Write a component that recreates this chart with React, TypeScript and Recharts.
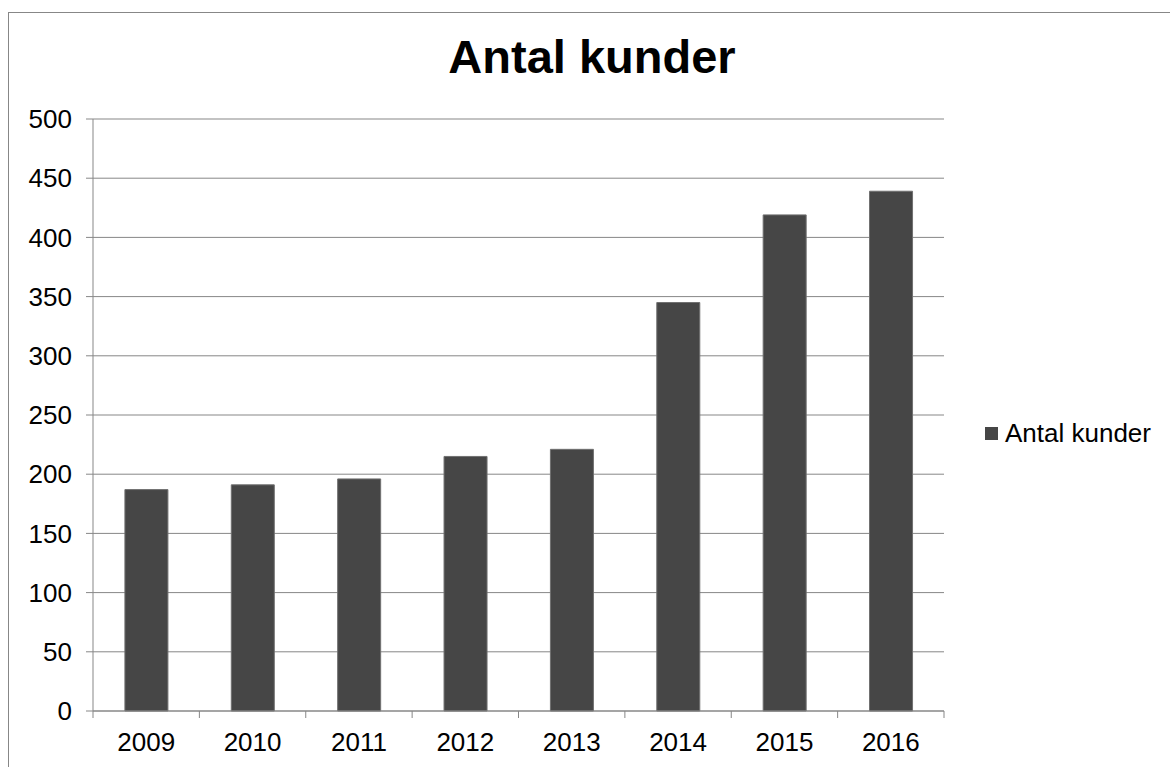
import { BarChart, Bar, XAxis, YAxis, CartesianGrid } from 'recharts';

// Antal kunder per år
const years = ['2009', '2010', '2011', '2012', '2013', '2014', '2015', '2016'];
const customers = [187, 191, 196, 215, 221, 345, 419, 439];
const yTicks = [0, 50, 100, 150, 200, 250, 300, 350, 400, 450, 500];
const seriesName = 'Antal kunder';

const data = years.map((y, i) => ({ year: y, [seriesName]: customers[i] }));

const W = 1170;
const H = 767;
const X_AXIS_H = 30;
const Y_AXIS_W = 93;
const M = { top: 119, right: 226, bottom: 56 - X_AXIS_H, left: 0 };
const FONT = 'Liberation Sans, Arial, sans-serif';
const GRID = '#878787';
const BAR = '#464646';

const plotW = W - M.left - M.right - Y_AXIS_W;
const halfBand = plotW / years.length / 2;

function YearTick({ x, y, payload, index }: any) {
  return (
    <g>
      {index === 0 && <line x1={x - halfBand} x2={x - halfBand} y1={y - 8} y2={y - 1} stroke={GRID} />}
      <line x1={x + halfBand} x2={x + halfBand} y1={y - 8} y2={y - 1} stroke={GRID} />
      <text x={x} y={y + 32} textAnchor="middle" fontSize={26} fontFamily={FONT} fill="#000">
        {payload.value}
      </text>
    </g>
  );
}

export default function App() {
  return (
    <div style={{ position: 'absolute', left: 0, top: 0, width: W, height: H, overflow: 'hidden', background: '#fff' }}>
      <div style={{ position: 'absolute', left: 8, top: 12, width: 1300, height: 900, border: `1px solid ${GRID}` }} />
      <div style={{
        position: 'absolute', left: 0, top: 34, width: 1184, textAlign: 'center',
        fontFamily: FONT, fontWeight: 700, fontSize: 47, lineHeight: '46px', color: '#000',
      }}>
        Antal kunder
      </div>
      <div style={{ position: 'absolute', left: 0, top: 0 }}>
        <BarChart width={W} height={H} data={data} margin={M} barCategoryGap="30%">
          <CartesianGrid vertical={false} stroke={GRID} strokeDasharray="" />
          <XAxis
            dataKey="year"
            height={X_AXIS_H}
            stroke={GRID}
            tickLine={false}
            tick={<YearTick />}
            interval={0}
          />
          <YAxis
            width={Y_AXIS_W}
            domain={[0, 500]}
            ticks={yTicks}
            interval={0}
            stroke={GRID}
            tickSize={7}
            tickMargin={14}
            tick={{ fontSize: 26, fontFamily: FONT, fill: '#000' }}
          />
          <Bar dataKey={seriesName} fill={BAR} stroke="#707070" strokeWidth={1} isAnimationActive={false} />
        </BarChart>
      </div>
      {/* legend, right of plot */}
      <div style={{
        position: 'absolute', left: 985, top: 418, display: 'flex', alignItems: 'center',
        fontFamily: FONT, fontSize: 26, color: '#000',
      }}>
        <div style={{ width: 13, height: 13, background: BAR, marginRight: 7 }} />
        <span>{seriesName}</span>
      </div>
    </div>
  );
}
